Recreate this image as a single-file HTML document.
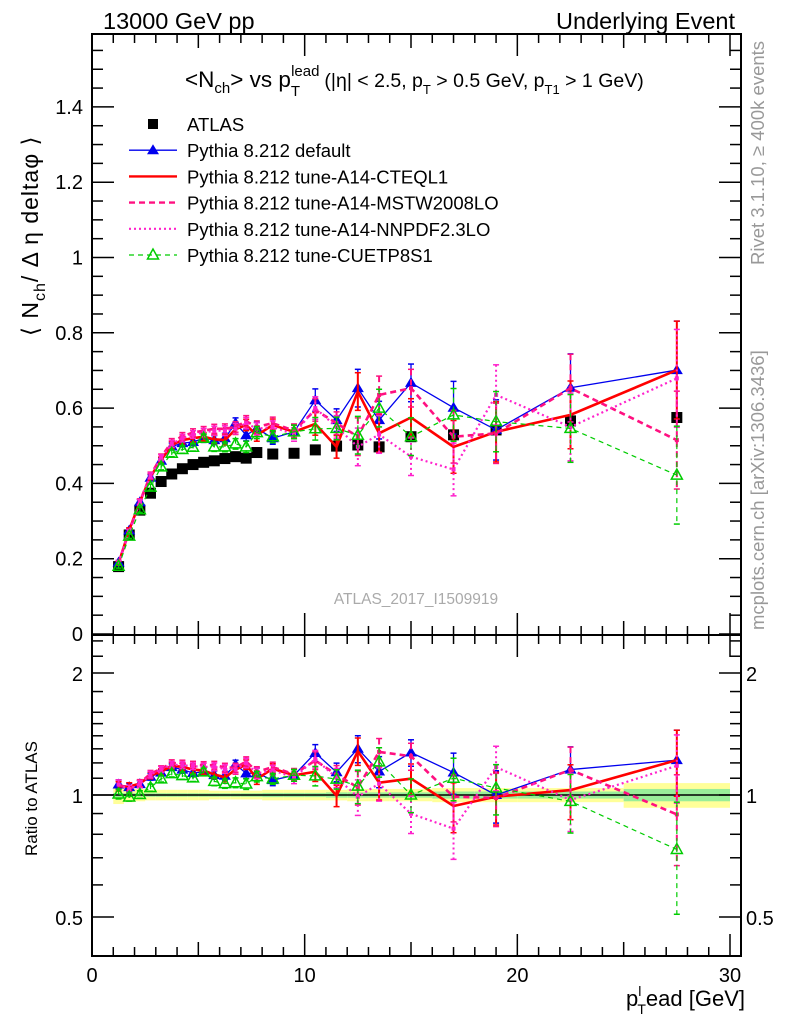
<!DOCTYPE html>
<html><head><meta charset="utf-8">
<style>
html,body{margin:0;padding:0;background:#fff;}
svg{display:block;font-family:"Liberation Sans",Arial,sans-serif;}
</style></head>
<body>
<svg id="chart" width="786" height="1024" viewBox="0 0 786 1024" xmlns="http://www.w3.org/2000/svg">
<g id="bands"></g>
<g id="axes"></g>
<g id="series"></g>
<text x="103" y="29" font-size="23.5">13000 GeV pp</text>
<text x="735" y="29" font-size="23.5" text-anchor="end">Underlying Event</text>
<text x="185" y="87" font-size="22.5">&lt;N<tspan font-size="15" dy="6">ch</tspan><tspan dy="-6">&gt; vs p</tspan><tspan font-size="15" dy="9">T</tspan><tspan font-size="15" dx="-9" dy="-20">lead</tspan><tspan font-size="19.5" dx="5" dy="11">(|η| &lt; 2.5, p</tspan><tspan font-size="13" dy="7">T</tspan><tspan font-size="19.5" dy="-7"> &gt; 0.5 GeV, p</tspan><tspan font-size="13" dy="7">T1</tspan><tspan font-size="19.5" dy="-7"> &gt; 1 GeV)</tspan></text>
<text transform="translate(38,336) rotate(-90)" font-size="23" letter-spacing="1">⟨ N<tspan font-size="16" dy="7">ch</tspan><tspan dy="-7">/ Δ η deltaφ ⟩</tspan></text>
<text transform="translate(37,856) rotate(-90)" font-size="17">Ratio to ATLAS</text>
<text x="745" y="1006" font-size="22" text-anchor="end">p<tspan font-size="14" dy="-10">l</tspan><tspan font-size="14" dx="-4" dy="18">T</tspan><tspan dy="-8">ead [GeV]</tspan></text>
<text transform="translate(764,265) rotate(-90)" font-size="18.5" fill="#999">Rivet 3.1.10, ≥ 400k events</text>
<text transform="translate(764,630) rotate(-90)" font-size="18.5" fill="#999">mcplots.cern.ch [arXiv:1306.3436]</text>
<text x="416" y="604" font-size="15.5" fill="#aaa" text-anchor="middle">ATLAS_2017_I1509919</text>
<g id="legend"></g>
</svg>
<script>
const xs=[1.25,1.75,2.25,2.75,3.25,3.75,4.25,4.75,5.25,5.75,6.25,6.75,7.25,7.75,8.5,9.5,10.5,11.5,12.5,13.5,15,17,19,22.5,27.5];
const binLo=[1,1.5,2,2.5,3,3.5,4,4.5,5,5.5,6,6.5,7,7.5,8,9,10,11,12,13,14,16,18,20,25];
const binHi=[1.5,2,2.5,3,3.5,4,4.5,5,5.5,6,6.5,7,7.5,8,9,10,11,12,13,14,16,18,20,25,30];
const atlas=[0.179,0.263,0.329,0.374,0.405,0.425,0.439,0.45,0.456,0.46,0.466,0.471,0.467,0.482,0.478,0.48,0.489,0.499,0.502,0.497,0.524,0.529,0.542,0.566,0.575];
const atlasTotRel=[0.05,0.04,0.035,0.03,0.03,0.03,0.03,0.03,0.03,0.025,0.025,0.025,0.025,0.025,0.03,0.03,0.03,0.03,0.035,0.035,0.035,0.04,0.04,0.04,0.07];
const atlasStatRel=[0.012,0.01,0.01,0.01,0.01,0.01,0.01,0.01,0.01,0.01,0.01,0.01,0.01,0.01,0.012,0.012,0.012,0.015,0.015,0.015,0.015,0.02,0.02,0.02,0.035];
const blue=[0.19,0.275,0.35,0.415,0.46,0.498,0.507,0.51,0.52,0.515,0.52,0.56,0.528,0.546,0.52,0.537,0.621,0.568,0.653,0.568,0.667,0.601,0.542,0.654,0.701];
const red=[0.188,0.276,0.351,0.418,0.462,0.502,0.515,0.52,0.524,0.517,0.515,0.544,0.555,0.528,0.555,0.537,0.558,0.497,0.644,0.533,0.575,0.497,0.537,0.582,0.701];
const mstw=[0.19,0.272,0.352,0.422,0.47,0.51,0.525,0.535,0.54,0.545,0.545,0.55,0.565,0.55,0.56,0.54,0.595,0.56,0.524,0.635,0.653,0.524,0.533,0.653,0.515];
const nnpdf=[0.19,0.272,0.35,0.42,0.468,0.505,0.52,0.53,0.535,0.54,0.54,0.545,0.56,0.545,0.55,0.53,0.60,0.55,0.497,0.53,0.471,0.437,0.635,0.55,0.679];
const green=[0.18,0.26,0.33,0.39,0.444,0.48,0.49,0.496,0.52,0.497,0.497,0.505,0.497,0.535,0.524,0.537,0.545,0.546,0.528,0.6,0.524,0.582,0.564,0.546,0.422];
const modelErr=[0.005,0.006,0.007,0.008,0.008,0.009,0.01,0.01,0.011,0.012,0.013,0.014,0.015,0.016,0.016,0.018,0.03,0.03,0.05,0.05,0.05,0.07,0.08,0.09,0.13];
const mainTicks=[0,0.2,0.4,0.6,0.8,1,1.2,1.4];
const ratioMajor=[0.5,1,2];
const ratioMinor=[0.4,0.6,0.7,0.8,0.9,1.1,1.2,1.3,1.4,1.5,1.6,1.8,2.2,2.4];
const xTicks=[0,10,20,30];

const NS="http://www.w3.org/2000/svg";
const L=92,R=741,T=34,MB=635,RB=956;
const X=v=>92+v*(638/30);
const Y=v=>634-v*376.5;
const YR=r=>795-Math.log2(r)*122;
function mk(tag,attrs,parent){const e=document.createElementNS(NS,tag);for(const k in attrs)e.setAttribute(k,attrs[k]);parent.appendChild(e);return e;}
const axes=document.getElementById('axes'),bands=document.getElementById('bands'),ser=document.getElementById('series'),leg=document.getElementById('legend');

for(let i=0;i<xs.length;i++){
  const y1=YR(1+atlasTotRel[i]),y2=YR(1-atlasTotRel[i]);
  const b=mk('rect',{x:X(binLo[i]),y:y1,width:X(binHi[i])-X(binLo[i]),height:y2-y1,fill:'#ffff99'},bands);
  
  
  const s1=YR(1+atlasStatRel[i]),s2=YR(1-atlasStatRel[i]);
  const g=mk('rect',{x:X(binLo[i]),y:s1,width:X(binHi[i])-X(binLo[i]),height:s2-s1,fill:'#99ee99'},bands);
  
  
}
mk('rect',{x:L,y:T,width:R-L,height:MB-T,fill:'none',stroke:'#000','stroke-width':2},axes);
mk('rect',{x:L,y:MB,width:R-L,height:RB-MB,fill:'none',stroke:'#000','stroke-width':2},axes);
mk('line',{x1:L,x2:R,y1:YR(1),y2:YR(1),stroke:'#000','stroke-width':1.5},axes);
for(let v=0;v<=1.6001;v+=0.05){
  const y=Y(v);if(y<T)break;
  const maj=Math.abs(v/0.2-Math.round(v/0.2))<1e-6;const len=maj?22:11;
  mk('line',{x1:L,x2:L+len,y1:y,y2:y,stroke:'#000','stroke-width':1.5},axes);
  mk('line',{x1:R,x2:R-len,y1:y,y2:y,stroke:'#000','stroke-width':1.5},axes);
}
mainTicks.forEach(v=>{const t=mk('text',{x:L-9,y:Y(v)+7,'font-size':20,'text-anchor':'end'},axes);t.textContent=String(v);
  
  });
ratioMajor.forEach(v=>{const y=YR(v);
  mk('line',{x1:L,x2:L+22,y1:y,y2:y,stroke:'#000','stroke-width':1.5},axes);
  mk('line',{x1:R,x2:R-22,y1:y,y2:y,stroke:'#000','stroke-width':1.5},axes);
  const t=mk('text',{x:L-9,y:y+8,'font-size':20,'text-anchor':'end'},axes);t.textContent=String(v);
  
  
  const t2=mk('text',{x:R+5,y:y+8,'font-size':20},axes);t2.textContent=String(v);
  
  });
ratioMinor.forEach(v=>{const y=YR(v);if(y<MB||y>RB)return;
  mk('line',{x1:L,x2:L+11,y1:y,y2:y,stroke:'#000','stroke-width':1.5},axes);
  mk('line',{x1:R,x2:R-11,y1:y,y2:y,stroke:'#000','stroke-width':1.5},axes);});
for(let v=0;v<=30.5;v+=1){
  const x=X(v);const maj=v%10===0;const len=maj?22:(v%5===0?14:9);
  [[T,1],[MB,-1],[MB,1],[RB,-1]].forEach(([y0,d])=>mk('line',{x1:x,x2:x,y1:y0,y2:y0+d*len,stroke:'#000','stroke-width':1.5},axes));
}
xTicks.forEach(v=>{const t=mk('text',{x:X(v),y:982,'font-size':20,'text-anchor':'middle'},axes);t.textContent=String(v);
  
  });

const models=[
 {name:'pythia-default',vals:blue,color:'#0000ee',w:1.3,dash:'',marker:'tri-filled'},
 {name:'tune-a14-cteql1',vals:red,color:'#ff0000',w:2.6,dash:'',marker:'none'},
 {name:'tune-a14-mstw2008lo',vals:mstw,color:'#ff1080',w:2.6,dash:'6,4',marker:'sq'},
 {name:'tune-a14-nnpdf23lo',vals:nnpdf,color:'#ff22cc',w:2.2,dash:'2,3',marker:'sq'},
 {name:'tune-cuetp8s1',vals:green,color:'#00cc00',w:1.2,dash:'5,4',marker:'tri-open'}
];
function drawMarker(g,type,x,y,c){
  if(type==='tri-filled'){const m=mk('polygon',{points:`${x},${y-6} ${x-6},${y+4} ${x+6},${y+4}`,fill:c},g);}
  else if(type==='tri-open'){const m=mk('polygon',{points:`${x},${y-6} ${x-5.5},${y+4} ${x+5.5},${y+4}`,fill:'none',stroke:c,'stroke-width':1.5},g);}
  else if(type==='sq'){const m=mk('rect',{x:x-2,y:y-2,width:4,height:4,fill:c},g);}
}
function drawSeries(m,yfn,valfn,errfn){
  const g=mk('g',{},ser);
  
  
  const pts=xs.map((x,i)=>[X(x),yfn(valfn(i))]);
  const pl=mk('polyline',{points:pts.map(p=>p.join(',')).join(' '),fill:'none',stroke:m.color,'stroke-width':m.w,'stroke-dasharray':m.dash},g);
  
  
  xs.forEach((x,i)=>{
    const v=valfn(i),e=errfn(i);
    const y1=yfn(v+e),y2=yfn(Math.max(v-e,0.01));
    const px=X(x);
    const eb=mk('line',{x1:px,x2:px,y1:y1,y2:y2,stroke:m.color,'stroke-width':Math.min(m.w,2),'stroke-dasharray':m.dash},g);
    
    
    mk('line',{x1:px-3,x2:px+3,y1:y1,y2:y1,stroke:m.color,'stroke-width':1.5},g);
    mk('line',{x1:px-3,x2:px+3,y1:y2,y2:y2,stroke:m.color,'stroke-width':1.5},g);
    drawMarker(g,m.marker,px,pts[i][1],m.color);
  });
}
const ag=mk('g',{},ser);


xs.forEach((x,i)=>{const r=mk('rect',{x:X(x)-5.5,y:Y(atlas[i])-5.5,width:11,height:11,fill:'#000'},ag);
  
  });
models.forEach(m=>drawSeries(m,Y,i=>m.vals[i],i=>modelErr[i]));
models.forEach(m=>drawSeries(m,YR,i=>m.vals[i]/atlas[i],i=>modelErr[i]/atlas[i]));

const rows=[['ATLAS',null],['Pythia 8.212 default',models[0]],['Pythia 8.212 tune-A14-CTEQL1',models[1]],['Pythia 8.212 tune-A14-MSTW2008LO',models[2]],['Pythia 8.212 tune-A14-NNPDF2.3LO',models[3]],['Pythia 8.212 tune-CUETP8S1',models[4]]];
rows.forEach((r,k)=>{
  const y=124+k*26.2;
  const g=mk('g',{},leg);
  
  
  if(!r[1]){mk('rect',{x:148,y:y-5,width:10,height:10,fill:'#000'},g);}
  else{const m=r[1];mk('line',{x1:129,x2:177,y1:y,y2:y,stroke:m.color,'stroke-width':Math.min(m.w,2.4),'stroke-dasharray':m.dash},g);
    if(m.marker.startsWith('tri'))drawMarker(g,m.marker,153,y,m.color);}
  const t=mk('text',{x:187,y:y+7,'font-size':18.5},g);t.textContent=r[0];
});
</script>
</body></html>
